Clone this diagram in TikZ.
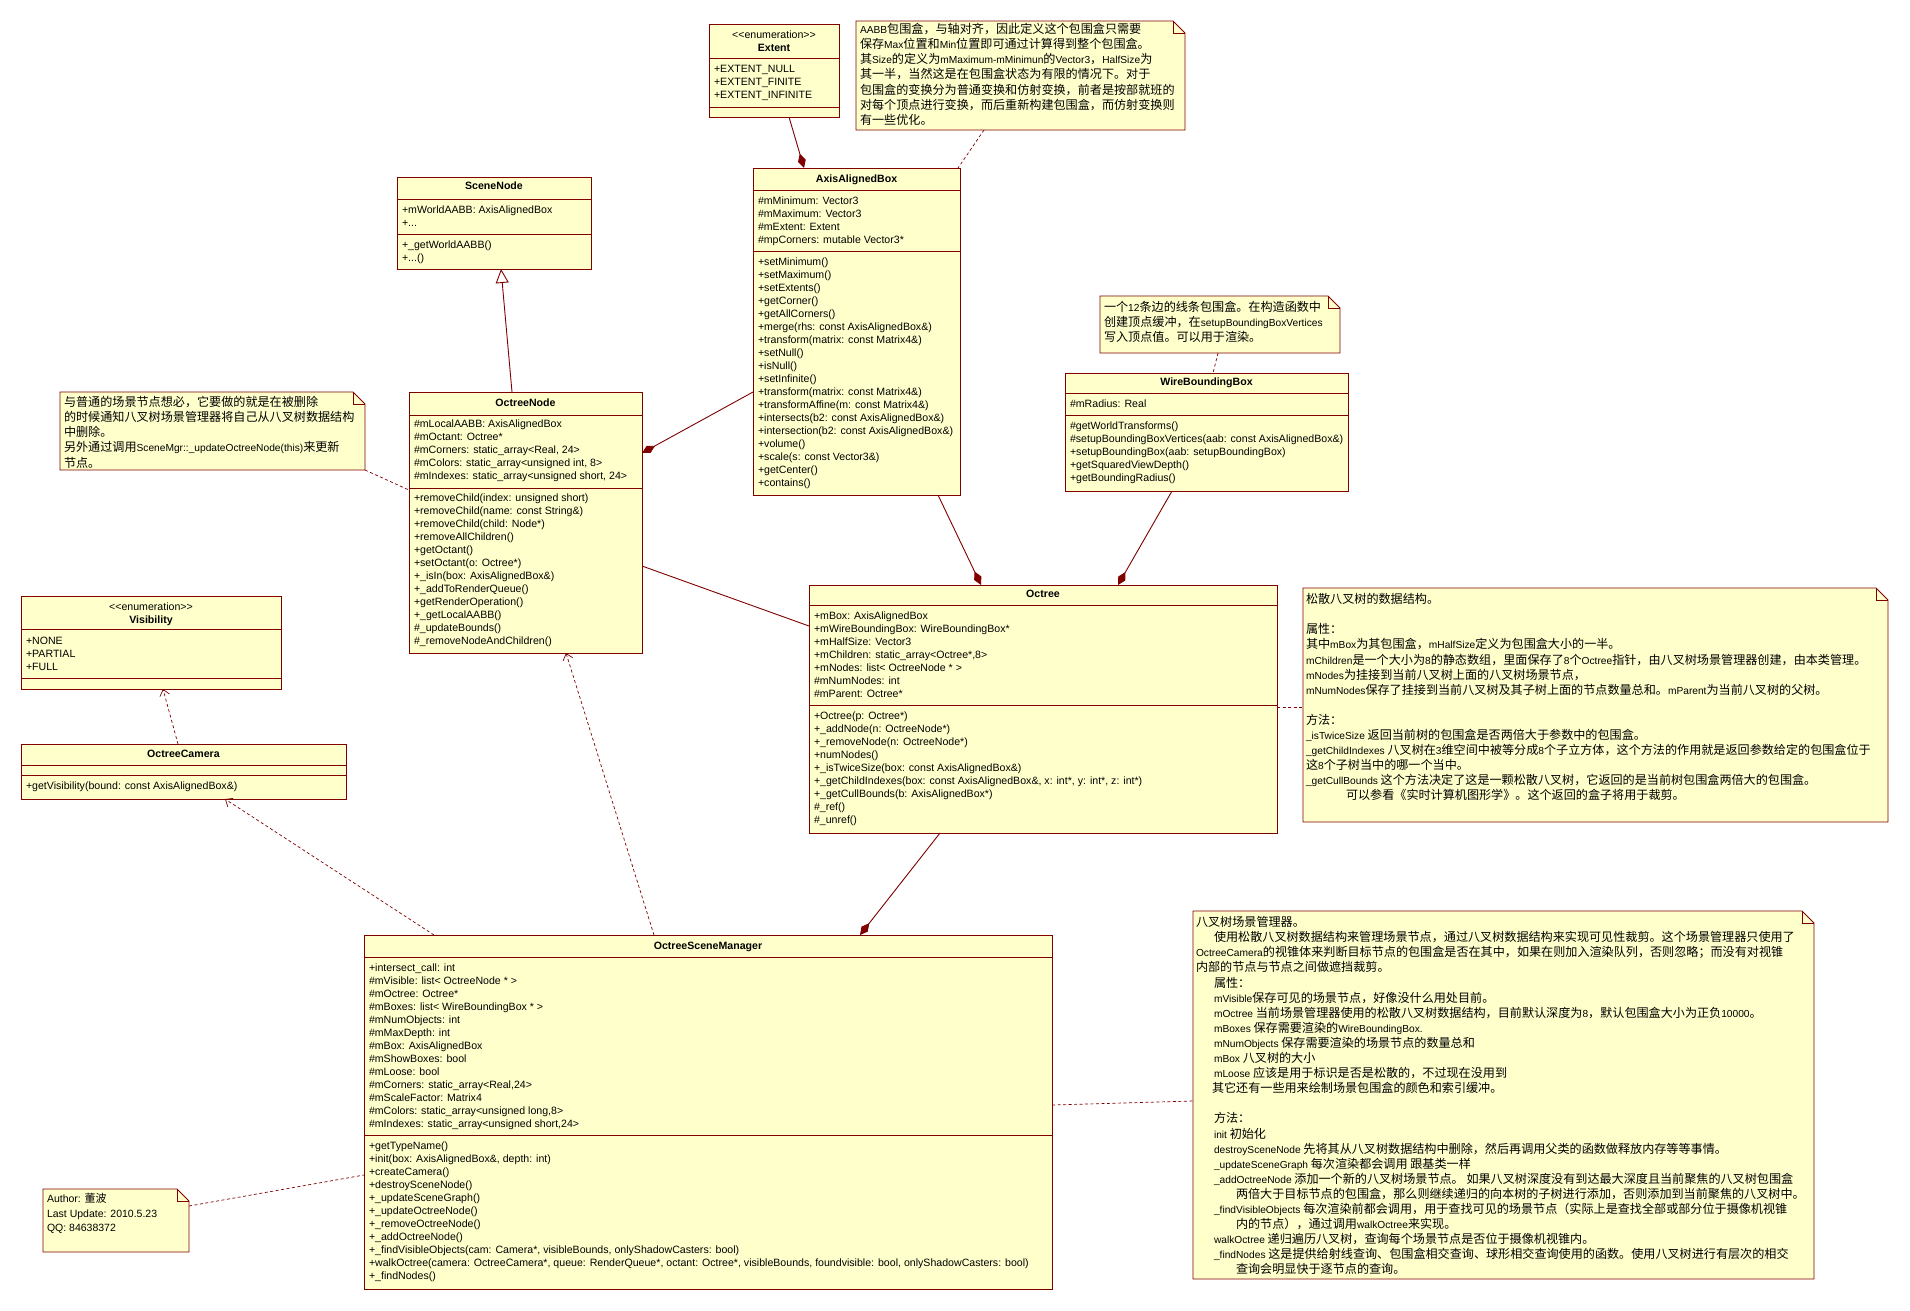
\documentclass[tikz,border=0pt]{standalone}
\usepackage{fontspec}
\setmainfont{Liberation Sans}
\newfontfamily\cjk{Noto Sans CJK SC}
\newfontfamily\lat{Liberation Sans}
\usetikzlibrary{arrows.meta,calc}
\definecolor{umlfill}{HTML}{FFFFCC}
\definecolor{umlline}{HTML}{800000}
\newcommand\E[1]{{\lat\fontsize{10.2}{15}\selectfont #1}}
\tikzset{
  cls/.style={draw=umlline, fill=umlfill, line width=0.9pt, anchor=north west, inner sep=0pt, outer sep=0pt},
  sepline/.style={draw=umlline, line width=0.9pt},
  ctext/.style={anchor=north west, inner sep=0pt, outer sep=0pt, align=left, font=\lat\fontsize{10.6}{13}\selectfont},
  ctitle/.style={anchor=north, inner sep=0pt, outer sep=0pt, align=center, font=\lat\fontsize{10.6}{13}\selectfont},
  notebg/.style={anchor=north west, inner sep=0pt, outer sep=0pt, draw=none},
  notebox/.style={draw=umlline, fill=umlfill, line width=0.9pt, line join=miter},
  ntext/.style={anchor=north west, inner sep=0pt, outer sep=0pt, align=left, font=\cjk\fontsize{12.1}{15.1}\selectfont},
  conn/.style={draw=umlline, line width=0.9pt},
  compo/.style={conn, -{Diamond[length=15pt,width=8pt,fill=umlline]}},
  gen/.style={conn, -{Triangle[length=14pt,width=13pt,fill=white]}},
  dep/.style={conn, line width=0.7pt, dash pattern=on 3pt off 2.5pt, -{Straight Barb[length=6pt,width=10pt]}},
  dsh/.style={conn, line width=0.7pt, dash pattern=on 3pt off 2.5pt},
}
% class text block: name, x, y(center of first line), text
\newcommand\ct[4]{\node[ctext] (#1) at (#2,#3-6.8) {\rule{0pt}{10.6pt}#4};}
\newcommand\cti[4]{\node[ctitle] (#1) at (#2,#3-6.8) {\rule{0pt}{10.6pt}#4};}
\newcommand\nt[4]{\node[ntext] (#1) at (#2,#3-7.4) {\rule{0pt}{12pt}#4};}
% note box: name, x1, y1, width, height
\newcommand\notebox[5]{%
  \node[notebg, minimum width=#4pt, minimum height=#5pt] (#1) at (#2,#3) {};
  \draw[notebox] (#1.south west) -- (#1.north west) -- ($(#1.north east)+(-12,0)$) -- ($(#1.north east)+(0,12)$) -- (#1.south east) -- cycle;
  \draw[notebox, fill=none] ($(#1.north east)+(-12,0)$) -- ($(#1.north east)+(-12,12)$) -- ($(#1.north east)+(0,12)$);
}
\begin{document}
\begin{tikzpicture}[x=1pt, y=-1pt]
\useasboundingbox (0,0) rectangle (1910,1310);
\fill[white] (0,0) rectangle (1910,1310);

% ---------------- Extent
\node[cls, minimum width=130pt, minimum height=93pt] (ext) at (709,24) {};
\draw[sepline] (709,58) -- (839,58);
\draw[sepline] (709,107) -- (839,107);
\cti{ext-t}{774}{35}{<\kern0pt<enumeration>\kern0pt>\\\textbf{Extent}}
\ct{ext-a}{714}{69}{+EXTENT\_NULL\\+EXTENT\_FINITE\\+EXTENT\_INFINITE}

% ---------------- AABB note
\notebox{naab}{856}{21}{329}{109}
\nt{naab-t}{860}{29}{\E{AABB}包围盒，与轴对齐，因此定义这个包围盒只需要\\%
保存\E{Max}位置和\E{Min}位置即可通过计算得到整个包围盒。\\%
其\E{Size}的定义为\E{mMaximum-mMinimun}的\E{Vector3}，\E{HalfSize}为\\%
其一半，当然这是在包围盒状态为有限的情况下。对于\\%
包围盒的变换分为普通变换和仿射变换，前者是按部就班的\\%
对每个顶点进行变换，而后重新构建包围盒，而仿射变换则\\%
有一些优化。}

% ---------------- SceneNode
\node[cls, minimum width=194pt, minimum height=92pt] (sn) at (397,177) {};
\draw[sepline] (397,199) -- (591,199);
\draw[sepline] (397,234) -- (591,234);
\cti{sn-t}{494}{186}{\textbf{SceneNode}}
\ct{sn-a}{402}{210}{+mWorldAABB: AxisAlignedBox\\+...}
\ct{sn-m}{402}{245}{+\_getWorldAABB()\\+...()}

% ---------------- AxisAlignedBox
\node[cls, minimum width=207pt, minimum height=327pt] (aab) at (753,168) {};
\draw[sepline] (753,190) -- (960,190);
\draw[sepline] (753,251) -- (960,251);
\cti{aab-t}{856.5}{179}{\textbf{AxisAlignedBox}}
\ct{aab-a}{758}{201}{\#mMinimum: Vector3\\\#mMaximum: Vector3\\\#mExtent: Extent\\\#mpCorners: mutable Vector3*}
\ct{aab-m}{758}{262}{+setMinimum()\\+setMaximum()\\+setExtents()\\+getCorner()\\+getAllCorners()\\%
+merge(rhs: const AxisAlignedBox\&)\\+transform(matrix: const Matrix4\&)\\+setNull()\\+isNull()\\+setInfinite()\\%
+transform(matrix: const Matrix4\&)\\+transformAffine(m: const Matrix4\&)\\+intersects(b2: const AxisAlignedBox\&)\\%
+intersection(b2: const AxisAlignedBox\&)\\+volume()\\+scale(s: const Vector3\&)\\+getCenter()\\+contains()}

% ---------------- WBB note
\notebox{nwbb}{1100}{296}{240}{57}
\nt{nwbb-t}{1104}{307}{一个\E{12}条边的线条包围盒。在构造函数中\\%
创建顶点缓冲，在\E{setupBoundingBoxVertices}\\%
写入顶点值。可以用于渲染。}

% ---------------- WireBoundingBox
\node[cls, minimum width=283pt, minimum height=118pt] (wbb) at (1065,373) {};
\draw[sepline] (1065,393) -- (1348,393);
\draw[sepline] (1065,415) -- (1348,415);
\cti{wbb-t}{1206.5}{382}{\textbf{WireBoundingBox}}
\ct{wbb-a}{1070}{404}{\#mRadius: Real}
\ct{wbb-m}{1070}{426}{\#getWorldTransforms()\\\#setupBoundingBoxVertices(aab: const AxisAlignedBox\&)\\%
+setupBoundingBox(aab: setupBoundingBox)\\+getSquaredViewDepth()\\+getBoundingRadius()}

% ---------------- OctreeNode note
\notebox{non}{60}{392}{305}{78}
\nt{non-t}{64}{402}{与普通的场景节点想必，它要做的就是在被删除\\%
的时候通知八叉树场景管理器将自己从八叉树数据结构\\%
中删除。\\%
另外通过调用\E{SceneMgr::\_updateOctreeNode(this)}来更新\\%
节点。}

% ---------------- OctreeNode
\node[cls, minimum width=233pt, minimum height=261pt] (on) at (409,392) {};
\draw[sepline] (409,415) -- (642,415);
\draw[sepline] (409,488) -- (642,488);
\cti{on-t}{525.5}{403}{\textbf{OctreeNode}}
\ct{on-a}{414}{424}{\#mLocalAABB: AxisAlignedBox\\\#mOctant: Octree*\\\#mCorners: static\_array<Real, 24>\\%
\#mColors: static\_array<unsigned int, 8>\\\#mIndexes: static\_array<unsigned short, 24>}
\ct{on-m}{414}{498}{+removeChild(index: unsigned short)\\+removeChild(name: const String\&)\\+removeChild(child: Node*)\\%
+removeAllChildren()\\+getOctant()\\+setOctant(o: Octree*)\\+\_isIn(box: AxisAlignedBox\&)\\+\_addToRenderQueue()\\%
+getRenderOperation()\\+\_getLocalAABB()\\\#\_updateBounds()\\\#\_removeNodeAndChildren()}

% ---------------- Visibility
\node[cls, minimum width=260pt, minimum height=93pt] (vis) at (21,596) {};
\draw[sepline] (21,629) -- (281,629);
\draw[sepline] (21,678) -- (281,678);
\cti{vis-t}{151}{607}{<\kern0pt<enumeration>\kern0pt>\\\textbf{Visibility}}
\ct{vis-a}{26}{641}{+NONE\\+PARTIAL\\+FULL}

% ---------------- OctreeCamera
\node[cls, minimum width=325pt, minimum height=55pt] (cam) at (21,744) {};
\draw[sepline] (21,765) -- (346,765);
\draw[sepline] (21,775) -- (346,775);
\cti{cam-t}{183.5}{754}{\textbf{OctreeCamera}}
\ct{cam-m}{26}{786}{+getVisibility(bound: const AxisAlignedBox\&)}

% ---------------- Octree
\node[cls, minimum width=468pt, minimum height=248pt] (oct) at (809,585) {};
\draw[sepline] (809,605) -- (1277,605);
\draw[sepline] (809,705) -- (1277,705);
\cti{oct-t}{1043}{594}{\textbf{Octree}}
\ct{oct-a}{814}{616}{+mBox: AxisAlignedBox\\+mWireBoundingBox: WireBoundingBox*\\+mHalfSize: Vector3\\%
+mChildren: static\_array<Octree*,8>\\+mNodes: list< OctreeNode * >\\\#mNumNodes: int\\\#mParent: Octree*}
\ct{oct-m}{814}{716}{+Octree(p: Octree*)\\+\_addNode(n: OctreeNode*)\\+\_removeNode(n: OctreeNode*)\\+numNodes()\\%
+\_isTwiceSize(box: const AxisAlignedBox\&)\\+\_getChildIndexes(box: const AxisAlignedBox\&, x: int*, y: int*, z: int*)\\%
+\_getCullBounds(b: AxisAlignedBox*)\\\#\_ref()\\\#\_unref()}

% ---------------- Octree note
\notebox{noct}{1303}{588}{585}{234}
\nt{noct-t}{1306}{599}{松散八叉树的数据结构。\\%
\\%
属性：\\%
其中\E{mBox}为其包围盒，\E{mHalfSize}定义为包围盒大小的一半。\\%
\E{mChildren}是一个大小为\E{8}的静态数组，里面保存了\E{8}个\E{Octree}指针，由八叉树场景管理器创建，由本类管理。\\%
\E{mNodes}为挂接到当前八叉树上面的八叉树场景节点，\\%
\E{mNumNodes}保存了挂接到当前八叉树及其子树上面的节点数量总和。\E{mParent}为当前八叉树的父树。\\%
\\%
方法：\\%
\E{\_isTwiceSize} 返回当前树的包围盒是否两倍大于参数中的包围盒。\\%
\E{\_getChildIndexes} 八叉树在\E{3}维空间中被等分成\E{8}个子立方体，这个方法的作用就是返回参数给定的包围盒位于\\%
这\E{8}个子树当中的哪一个当中。\\%
\E{\_getCullBounds} 这个方法决定了这是一颗松散八叉树，它返回的是当前树包围盒两倍大的包围盒。\\%
\hspace*{40pt}可以参看《实时计算机图形学》。这个返回的盒子将用于裁剪。}

% ---------------- OctreeSceneManager
\node[cls, minimum width=688pt, minimum height=354pt] (osm) at (364,935) {};
\draw[sepline] (364,957) -- (1052,957);
\draw[sepline] (364,1135) -- (1052,1135);
\cti{osm-t}{708}{946}{\textbf{OctreeSceneManager}}
\ct{osm-a}{369}{968}{+intersect\_call: int\\\#mVisible: list< OctreeNode * >\\\#mOctree: Octree*\\%
\#mBoxes: list< WireBoundingBox * >\\\#mNumObjects: int\\\#mMaxDepth: int\\\#mBox: AxisAlignedBox\\%
\#mShowBoxes: bool\\\#mLoose: bool\\\#mCorners: static\_array<Real,24>\\\#mScaleFactor: Matrix4\\%
\#mColors: static\_array<unsigned long,8>\\\#mIndexes: static\_array<unsigned short,24>}
\ct{osm-m}{369}{1146}{+getTypeName()\\+init(box: AxisAlignedBox\&, depth: int)\\+createCamera()\\+destroySceneNode()\\%
+\_updateSceneGraph()\\+\_updateOctreeNode()\\+\_removeOctreeNode()\\+\_addOctreeNode()\\%
+\_findVisibleObjects(cam: Camera*, visibleBounds, onlyShadowCasters: bool)\\%
+walkOctree(camera: OctreeCamera*, queue: RenderQueue*, octant: Octree*, visibleBounds, foundvisible: bool, onlyShadowCasters: bool)\\%
+\_findNodes()}

% ---------------- OSM note
\notebox{nosm}{1193}{911}{621}{368}
\nt{nosm-t}{1196}{922}{八叉树场景管理器。\\%
\hspace*{18pt}使用松散八叉树数据结构来管理场景节点，通过八叉树数据结构来实现可见性裁剪。这个场景管理器只使用了\\%
\E{OctreeCamera}的视锥体来判断目标节点的包围盒是否在其中，如果在则加入渲染队列，否则忽略；而没有对视锥\\%
内部的节点与节点之间做遮挡裁剪。\\%
\hspace*{18pt}属性：\\%
\hspace*{18pt}\E{mVisible}保存可见的场景节点，好像没什么用处目前。\\%
\hspace*{18pt}\E{mOctree} 当前场景管理器使用的松散八叉树数据结构，目前默认深度为\E{8}，默认包围盒大小为正负\E{10000}。\\%
\hspace*{18pt}\E{mBoxes} 保存需要渲染的\E{WireBoundingBox.}\\%
\hspace*{18pt}\E{mNumObjects} 保存需要渲染的场景节点的数量总和\\%
\hspace*{18pt}\E{mBox} 八叉树的大小\\%
\hspace*{18pt}\E{mLoose} 应该是用于标识是否是松散的，不过现在没用到\\%
\hspace*{16pt}其它还有一些用来绘制场景包围盒的颜色和索引缓冲。\\%
\\%
\hspace*{18pt}方法：\\%
\hspace*{18pt}\E{init} 初始化\\%
\hspace*{18pt}\E{destroySceneNode} 先将其从八叉树数据结构中删除，然后再调用父类的函数做释放内存等等事情。\\%
\hspace*{18pt}\E{\_updateSceneGraph} 每次渲染都会调用 跟基类一样\\%
\hspace*{18pt}\E{\_addOctreeNode} 添加一个新的八叉树场景节点。 如果八叉树深度没有到达最大深度且当前聚焦的八叉树包围盒\\%
\hspace*{40pt}两倍大于目标节点的包围盒，那么则继续递归的向本树的子树进行添加，否则添加到当前聚焦的八叉树中。\\%
\hspace*{18pt}\E{\_findVisibleObjects} 每次渲染前都会调用，用于查找可见的场景节点（实际上是查找全部或部分位于摄像机视锥\\%
\hspace*{40pt}内的节点），通过调用\E{walkOctree}来实现。\\%
\hspace*{18pt}\E{walkOctree} 递归遍历八叉树，查询每个场景节点是否位于摄像机视锥内。\\%
\hspace*{18pt}\E{\_findNodes} 这是提供给射线查询、包围盒相交查询、球形相交查询使用的函数。使用八叉树进行有层次的相交\\%
\hspace*{40pt}查询会明显快于逐节点的查询。}

% ---------------- Author note
\notebox{nauth}{43}{1189}{146}{63}
\node[ctext, font=\lat\fontsize{10.5}{14.5}\selectfont] (nauth-t) at (47,1199-6.8) {\rule{0pt}{10.6pt}Author: {\cjk\fontsize{11}{14.5}\selectfont 董波}\\Last Update: 2010.5.23\\QQ: 84638372};

% ---------------- connectors
\draw[compo] (ext.south -| 789,0) -- (aab.north -| 804,0);
\draw[dsh] (naab.south -| 984,0) -- (aab.north -| 958,0);
\draw[gen] (on.north -| 512,0) -- (sn.south -| 501,0);
\draw[compo] (aab.west |- 0,392) -- (on.east |- 0,453);
\draw[dsh] (non.south east) -- (on.west |- 0,490);
\draw[compo] (aab.south -| 938,0) -- (oct.north -| 981,0);
\draw[compo] (wbb.south -| 1172,0) -- (oct.north -| 1118,0);
\draw[dsh] (nwbb.south -| 1218,0) -- (wbb.north -| 1213,0);
\draw[conn] (on.east |- 0,566) -- (oct.west |- 0,626);
\draw[dsh] (oct.east |- 0,707) -- (noct.west |- 0,707);
\draw[compo] (oct.south -| 940,0) -- (osm.north -| 860,0);
\draw[dep] (cam.north -| 178,0) -- (vis.south -| 163,0);
\draw[dep] (osm.north -| 434,0) -- (cam.south -| 225,0);
\draw[dep] (osm.north -| 654,0) -- (on.south -| 566,0);
\draw[dsh] (osm.east |- 0,1105) -- (nosm.west |- 0,1101);
\draw[dsh] (nauth.east |- 0,1206) -- (osm.west |- 0,1175);
\end{tikzpicture}
\end{document}
